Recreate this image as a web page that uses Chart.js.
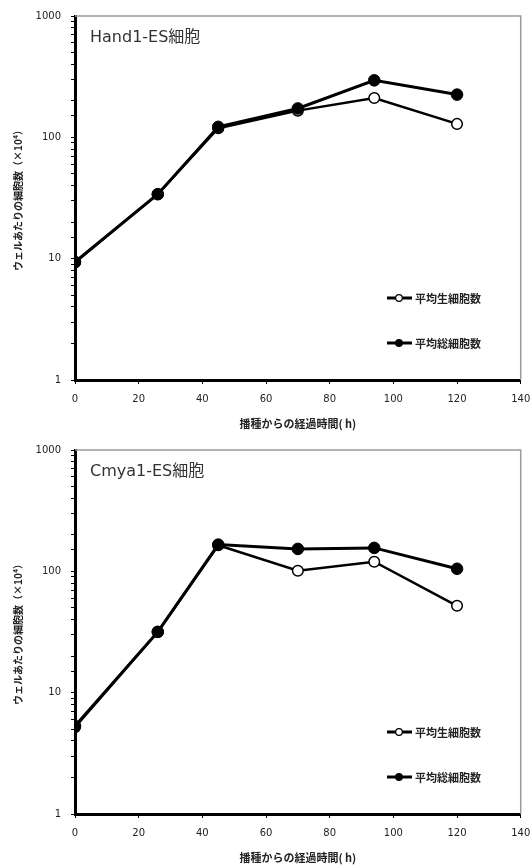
<!DOCTYPE html>
<html><head><meta charset="utf-8">
<script src="https://cdn.jsdelivr.net/npm/chart.js@4/dist/chart.umd.min.js"></script>
<style>
html,body{margin:0;padding:0;background:#fff;}
#wrap{position:relative;width:530px;height:868px;}
canvas{position:absolute;left:0;}
</style></head>
<body><div id="wrap">
<canvas id="c1" width="530" height="434" style="top:0"></canvas>
<canvas id="c2" width="530" height="434" style="top:434px"></canvas>
</div>
<script>
const hours = [0, 26, 45, 70, 94, 120];
const hand1Live  = [9.3, 34, 119, 166, 211, 129];
const hand1Total = [9.4, 34, 122, 173, 295, 225];
const cmya1Live  = [5.2, 31.7, 164, 101, 120, 52];
const cmya1Total = [5.3, 31.7, 166, 153, 156, 105];
const yLabels = [1, 10, 100, 1000];
const xMin = 0, xMax = 140, xStep = 20;
const seriesNames = ['平均生細胞数', '平均総細胞数'];
const titles = ['Hand1-ES細胞', 'Cmya1-ES細胞'];
const yTitle = 'ウェルあたりの細胞数（×10⁴）';
const xTitle = '播種からの経過時間( h)';

const toPts = arr => arr.map((v, i) => ({x: hours[i], y: v}));

const framePlugin = {
  id: 'frame',
  beforeDatasetsDraw(chart) {
    const a = chart.chartArea, ctx = chart.ctx;
    ctx.save();
    ctx.strokeStyle = '#9a9a9a';
    ctx.lineWidth = 1.5;
    ctx.beginPath();
    ctx.moveTo(a.left, a.top);
    ctx.lineTo(a.right, a.top);
    ctx.lineTo(a.right, a.bottom);
    ctx.stroke();
    ctx.restore();
  },
  afterDraw(chart) {
    const a = chart.chartArea, ctx = chart.ctx;
    ctx.save();
    ctx.fillStyle = '#333';
    ctx.font = "16px 'DejaVu Sans', 'Noto Sans CJK JP'";
    ctx.textBaseline = 'middle';
    ctx.textAlign = 'left';
    ctx.fillText(chart.options.plugins.frame.title, a.left + 15, a.top + 22);
    const ds = chart.data.datasets;
    const ys = [282, 327];
    [0, 1].forEach((di, k) => {
      const d = ds[di];
      const y = a.top + ys[k];
      const x0 = a.left + 312, x1 = a.left + 337, xm = a.left + 324;
      ctx.strokeStyle = '#000';
      ctx.lineWidth = 3;
      ctx.beginPath(); ctx.moveTo(x0, y); ctx.lineTo(x1, y); ctx.stroke();
      ctx.beginPath(); ctx.arc(xm, y, 3.3, 0, Math.PI * 2);
      ctx.fillStyle = d.pointBackgroundColor; ctx.fill();
      ctx.lineWidth = 1.2; ctx.stroke();
      ctx.fillStyle = '#222';
      ctx.font = "bold 11px 'Noto Sans CJK JP'";
      ctx.textBaseline = 'middle';
      ctx.fillText(d.label, x1 + 3, y + 1);
    });
    ctx.restore();
  }
};

function makeChart(id, live, total, title) {
  return new Chart(document.getElementById(id), {
    type: 'line',
    data: {
      datasets: [
        {label: seriesNames[0], data: toPts(live), borderColor: '#000', borderWidth: 2.5,
         pointRadius: 5.3, pointBackgroundColor: '#fff', pointBorderColor: '#000', pointBorderWidth: 1.5,
         tension: 0, order: 1},
        {label: seriesNames[1], data: toPts(total), borderColor: '#000', borderWidth: 3,
         pointRadius: 5.8, pointBackgroundColor: '#000', pointBorderColor: '#000', pointBorderWidth: 1,
         tension: 0, order: 0}
      ]
    },
    options: {
      responsive: false, animation: false, devicePixelRatio: 1,
      layout: {padding: {left: 0, right: 9.3, top: 16, bottom: 0}},
      plugins: {legend: {display: false}, tooltip: {enabled: false}, frame: {title: title}},
      scales: {
        x: {
          type: 'linear', min: xMin, max: xMax,
          ticks: {stepSize: xStep, color: '#222', font: {family: "'DejaVu Sans'", size: 10}, padding: 9, maxRotation: 0},
          grid: {drawOnChartArea: false, color: '#000', tickLength: 4, tickWidth: 1},
          border: {color: '#000', width: 3},
          title: {display: true, text: xTitle, color: '#222', font: {family: "'Noto Sans CJK JP'", size: 11, weight: 'bold'}, padding: {top: 0, bottom: 4}},
          afterFit(s) { s.height = 54; s.paddingRight = 0; s.paddingLeft = 0; }
        },
        y: {
          type: 'logarithmic', min: 1, max: 1000,
          ticks: {autoSkip: false, color: '#222', font: {family: "'DejaVu Sans'", size: 10}, padding: 10,
            callback: (v) => yLabels.includes(v) ? String(v) : ''},
          grid: {drawOnChartArea: false, color: '#000', tickLength: 4, tickWidth: 1},
          border: {color: '#000', width: 3},
          title: {display: true, text: yTitle, color: '#222', font: {family: "'Noto Sans CJK JP'", size: 10, weight: 'bold'}, padding: {top: 12, bottom: 0}},
          afterFit(s) { s.width = 75; s.paddingTop = 0; s.paddingBottom = 0; }
        }
      }
    },
    plugins: [framePlugin]
  });
}
makeChart('c1', hand1Live, hand1Total, titles[0]);
makeChart('c2', cmya1Live, cmya1Total, titles[1]);
</script>
</body></html>
